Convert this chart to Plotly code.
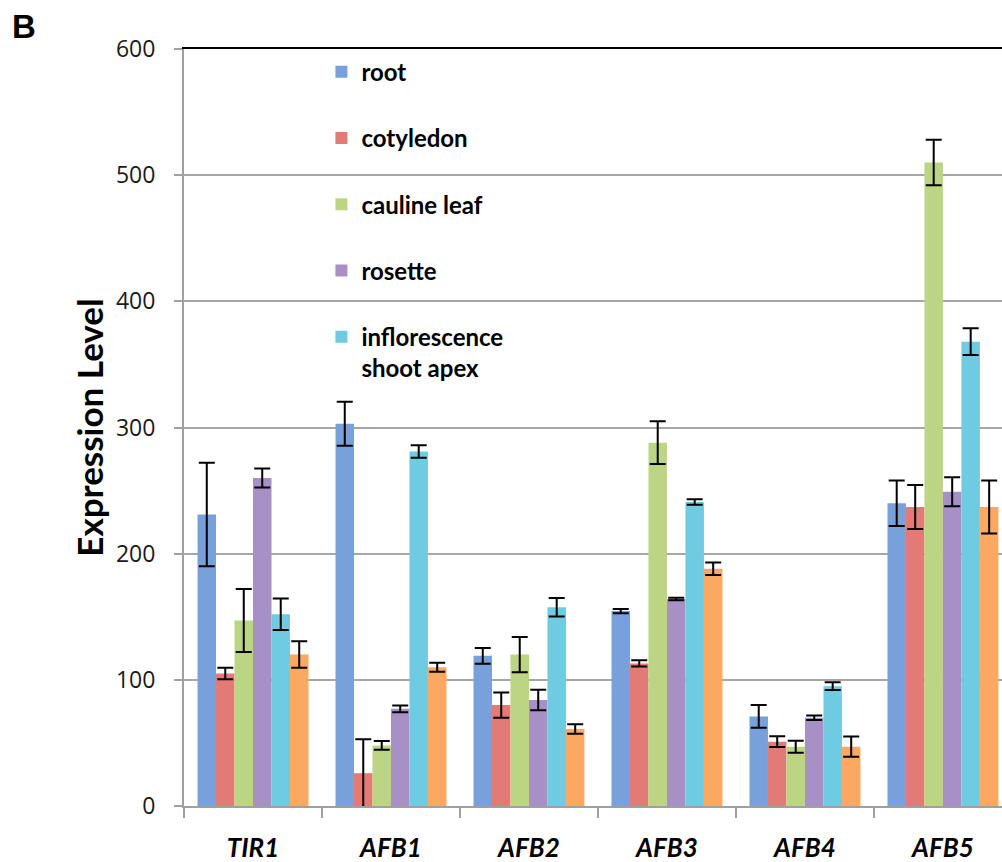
import plotly.graph_objects as go

genes = ["TIR1", "AFB1", "AFB2", "AFB3", "AFB4", "AFB5"]

tissues = ["root", "cotyledon", "cauline leaf", "rosette", "inflorescence<br>shoot apex", "flower"]

root_vals = [231, 303, 119, 154.5, 71, 240]
root_err = [41, 17.5, 6.3, 1.7, 9, 18]

cotyledon_vals = [105, 26, 80, 113, 51, 237]
cotyledon_err = [4.5, 27, 10, 2.5, 4.3, 17.5]

cauline_vals = [147, 48, 120, 288, 47, 510]
cauline_err = [25, 3.5, 14, 17, 4.8, 18]

rosette_vals = [260, 77, 84, 164, 70, 249]
rosette_err = [7.5, 2.7, 8.2, 1, 1.8, 11.5]

inflor_vals = [152, 281, 157.5, 241, 95, 368]
inflor_err = [12.5, 5, 7.3, 2.2, 3, 10.6]

flower_vals = [120, 110, 61, 188, 47, 237]
flower_err = [10.5, 3.5, 3.7, 5, 8, 21]

colors = ["#78a1db", "#e27b75", "#bcd585", "#a790c6", "#6ecbe2", "#fba862"]

series_vals = [root_vals, cotyledon_vals, cauline_vals, rosette_vals, inflor_vals, flower_vals]
series_err = [root_err, cotyledon_err, cauline_err, rosette_err, inflor_err, flower_err]

fig = go.Figure()
for i, (name, vals, errs, col) in enumerate(zip(tissues, series_vals, series_err, colors)):
    fig.add_trace(go.Bar(
        x=genes, y=vals, name=name,
        marker=dict(color=col, line=dict(width=0)),
        error_y=dict(type="data", array=errs, visible=True, color="black", thickness=2, width=8),
        showlegend=(i < 5),
        legendgroup=f"g{i}",
    ))

# black top border line via an overlaying axis
fig.add_trace(go.Scatter(x=[None], y=[None], xaxis="x2", showlegend=False, hoverinfo="skip"))

fig.update_layout(
    width=1002, height=862,
    margin=dict(l=184, r=0, t=49, b=56),
    paper_bgcolor="white", plot_bgcolor="white",
    barmode="group", bargap=0.196, bargroupgap=0,
    font=dict(family="Open Sans", color="#222222"),
    xaxis=dict(
        type="category", range=[-0.5, 5.428],
        showline=True, linecolor="#a0a0a0", linewidth=2,
        ticks="outside", tickson="boundaries", ticklen=10, tickcolor="#a0a0a0", tickwidth=2,
        tickfont=dict(family="Lato", size=26, weight="bold", style="italic", color="black"),
        ticklabelstandoff=18,
        showgrid=False,
    ),
    xaxis2=dict(
        overlaying="x", side="top", anchor="y", range=[0, 1],
        showline=True, linecolor="black", linewidth=2,
        showticklabels=False, ticks="", showgrid=False, zeroline=False,
    ),
    yaxis=dict(
        range=[0, 600], dtick=100,
        showline=True, linecolor="#a0a0a0", linewidth=2,
        ticks="outside", ticklen=8, tickcolor="#a0a0a0", tickwidth=2,
        showgrid=True, gridcolor="#a6a6a6", gridwidth=2,
        zeroline=False,
        tickfont=dict(family="Open Sans", size=23, color="#1a1a1a"),
        ticklabelstandoff=14,
        title=dict(text="Expression Level", font=dict(family="Lato", size=35, weight="bold", color="black"), standoff=2),
    ),
    legend=dict(
        x=0.168, y=0.999, xanchor="left", yanchor="top",
        bgcolor="rgba(0,0,0,0)",
        traceorder="grouped", tracegroupgap=32, valign="top",
        font=dict(family="Lato", size=24, weight="bold", color="black"),
        itemwidth=30,
    ),
    annotations=[dict(
        text="<b>B</b>", xref="paper", yref="paper",
        x=-0.213, y=1.057, xanchor="left", yanchor="top", showarrow=False,
        font=dict(family="Liberation Sans", size=33, color="black"),
    )],
)

fig.write_html("out.html", config={"displayModeBar": False},
               post_script="document.body.style.margin='0';document.body.style.overflow='hidden';")
